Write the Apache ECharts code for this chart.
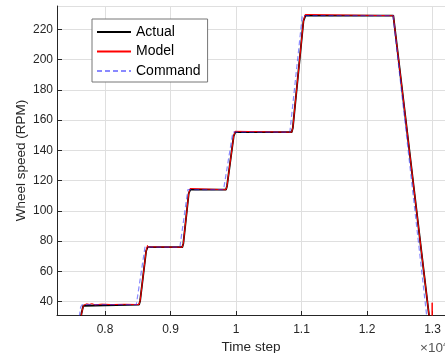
<!DOCTYPE html>
<html>
<head>
<meta charset="utf-8">
<script src="https://cdn.jsdelivr.net/npm/echarts@6/dist/echarts.min.js"></script>
<style>html,body{margin:0;padding:0;background:#fff;}#c{width:445px;height:353px;}</style>
</head>
<body>
<div id="c"></div>
<script>
// Time step (in units of 1e4) and wheel speed (RPM)
const actualTime  = [0.7620, 0.7640, 0.7668, 0.7690, 0.8519, 0.8536, 0.8628, 0.8650, 0.9180, 0.9196, 0.9278, 0.9302, 0.9847, 0.9863, 0.9965, 0.9990, 1.0850, 1.0868, 1.1030, 1.1060, 1.2402, 1.2980];
const actualSpeed = [25, 32, 37.3, 38, 38, 40.5, 73.5, 76, 76, 78.5, 111.5, 114, 114, 116.5, 149.5, 152, 152, 155, 225.5, 229, 229, 19];

const modelTime  = [0.7622, 0.7642, 0.7670, 0.7685, 0.7700, 0.7720, 0.7760, 0.7800, 0.7850, 0.7950, 0.8100, 0.8300, 0.8519, 0.8536, 0.8628, 0.8648, 0.8665, 0.8700, 0.9180, 0.9196, 0.9278, 0.9298, 0.9315, 0.9847, 0.9863, 0.9965, 0.9985, 1.0000, 1.0850, 1.0868, 1.1030, 1.1055, 1.1080, 1.2402, 1.2980, 1.2994, 1.2995, 1.2998];
const modelSpeed = [25, 32, 37.6, 38.9, 37.7, 38.6, 38.2, 38.7, 37.9, 38.4, 38.1, 38.3, 38.1, 40.5, 73.5, 77.2, 75.8, 76.2, 76, 78.5, 111.5, 114.8, 113.8, 114, 116.5, 149.5, 152.6, 151.9, 152, 155, 225.5, 229.8, 228.9, 229, 19, 14, 39.3, 14];

const commandTime  = [0.7590, 0.7628, 0.7650, 0.8478, 0.8610, 0.9143, 0.9265, 0.9810, 0.9952, 1.0822, 1.1012, 1.2398, 1.2960];
const commandSpeed = [25, 36.5, 38, 38, 76, 76, 114, 114, 152, 152, 229, 229, 12];

const seriesNames = ['Actual', 'Model', 'Command'];
const yTickLabels = [40, 60, 80, 100, 120, 140, 160, 180, 200, 220];
const xTickLabels = [0.8, 0.9, 1, 1.1, 1.2, 1.3];

const zip = (t, v) => t.map((x, i) => [x, v[i]]);
const textColor = '#262626';
const font = '"Liberation Sans", Arial, Helvetica, sans-serif';

const chart = echarts.init(document.getElementById('c'), null, {renderer: 'canvas'});
chart.setOption({
  animation: false,
  backgroundColor: '#fff',
  grid: {left: 57, top: 6, right: 0, bottom: 38, containLabel: false, outerBoundsMode: 'none'},
  legend: {
    orient: 'vertical', left: 92, top: 19,
    padding: [6, 7, 4, 4],
    itemWidth: 34, itemHeight: 14, itemGap: 5.5,
    backgroundColor: '#fff', borderColor: '#777', borderWidth: 1,
    itemStyle: {opacity: 0},
    textStyle: {fontFamily: font, fontSize: 14, color: '#000'},
    data: seriesNames
  },
  xAxis: {
    type: 'value', min: 0.7267, max: 1.3191, splitNumber: 5,
    minInterval: 0.1, maxInterval: 0.1,
    name: 'Time step', nameLocation: 'middle', nameGap: 25, nameMoveOverlap: false,
    nameTextStyle: {fontFamily: font, fontSize: 13.6, color: textColor},
    axisLine: {show: true, lineStyle: {color: textColor, width: 1}},
    axisTick: {show: true, inside: true, length: 4, lineStyle: {color: textColor}},
    axisLabel: {
      fontFamily: font, fontSize: 12, color: textColor, margin: 9,
      showMinLabel: false, showMaxLabel: false,
      formatter: v => {
        const m = xTickLabels.find(t => Math.abs(t - v) < 1e-6);
        return m === undefined ? '' : String(m);
      }
    },
    splitLine: {show: true, lineStyle: {color: '#dfdfdf', width: 1}}
  },
  yAxis: {
    type: 'value', min: 31.2, max: 235.4, splitNumber: 10,
    minInterval: 20, maxInterval: 20,
    name: 'Wheel speed (RPM)', nameLocation: 'middle', nameGap: 29, nameMoveOverlap: false,
    nameTextStyle: {fontFamily: font, fontSize: 13.5, color: textColor},
    axisLine: {show: true, lineStyle: {color: textColor, width: 1}},
    axisTick: {show: true, inside: true, length: 5, lineStyle: {color: textColor}},
    axisLabel: {
      fontFamily: font, fontSize: 12, color: textColor, margin: 4,
      showMinLabel: false, showMaxLabel: false,
      formatter: v => {
        const m = yTickLabels.find(t => Math.abs(t - v) < 1e-6);
        return m === undefined ? '' : String(m);
      }
    },
    splitLine: {show: true, lineStyle: {color: '#dfdfdf', width: 1}}
  },
  graphic: [{
    type: 'text', left: 420, top: 340,
    style: {
      text: '×10{s|4}', fontFamily: font, fontSize: 13.5, fill: '#555',
      rich: {s: {fontSize: 9, verticalAlign: 'top', padding: [0, 0, 7, 0], fill: '#555', fontFamily: font}}
    }
  }],
  series: [
    {name: 'Actual', type: 'line', data: zip(actualTime, actualSpeed), symbol: 'none', clip: true,
     lineStyle: {color: '#000', width: 1.8}, itemStyle: {color: '#000'}},
    {name: 'Model', type: 'line', data: zip(modelTime, modelSpeed), symbol: 'none', clip: true,
     lineStyle: {color: '#ff0000', width: 1}, itemStyle: {color: '#ff0000'}},
    {name: 'Command', type: 'line', data: zip(commandTime, commandSpeed), symbol: 'none', clip: true,
     lineStyle: {color: 'rgba(40,40,255,0.55)', width: 1.2, type: [5, 3]}, itemStyle: {color: 'rgba(40,40,255,0.55)'}}
  ]
});
</script>
</body>
</html>
